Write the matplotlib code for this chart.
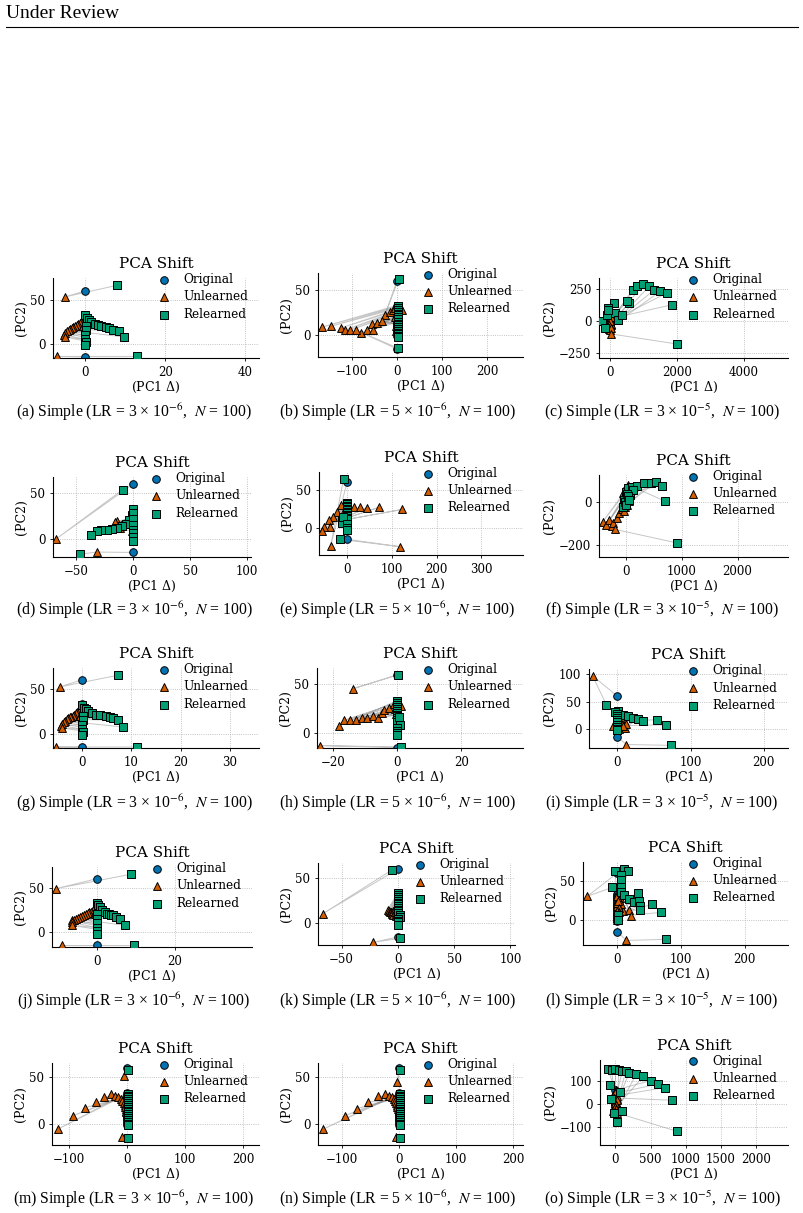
# PCA shift grid: original / unlearned / relearned points per run
import matplotlib.pyplot as plt
from matplotlib.ticker import MultipleLocator

plt.rcParams['font.family'] = 'DejaVu Serif'
plt.rcParams['mathtext.fontset'] = 'dejavuserif'

C_ORIG = '#0173b2'
C_UNL = '#d55e00'
C_REL = '#029e73'

# original points (shared by all runs)
orig_x = [0, 0, 0, 0, 0, 0, 0, 0, 0, 0, 0, 0, 0, 0, 0, 0, 0, 0, 0, 0]
orig_y = [60, 33, 31, 29, 27, 25, 23, 21, 19, 17, 15, 13, 11, 9, 7, 5, 3, 1, -1, -15]

# (a)
a_unl_x = [-5.2, -0.3, -0.5, -0.8, -1.1, -1.4, -1.8, -2.2, -2.6, -3.0, -3.4, -3.8, -4.2, -4.6, -5.0, -5.3, -5.2, -0.2, -0.5, -7.1]
a_unl_y = [53, 29, 27, 26, 25, 24, 22, 21, 20, 19, 18, 17, 15, 14, 12, 10, 7.6, 22, 20, -14.5]
a_rel_x = [7.9, 0, 0.4, 0.8, 1.5, 2.3, 3.2, 4.0, 5.2, 6.0, 6.9, 8.3, 9.7, 0.2, 0.1, 0, 0, 0.1, 0, 12.9]
a_rel_y = [66.3, 32, 29, 27, 25, 22.7, 21.5, 20.5, 19, 17.5, 16, 14, 7.6, 20, 15, 10, 5, 2, -2, -14.5]
# (b)
b_unl_x = [-26, -167, -147, -125, -114, -103, -79, -67, -56, -53, -44, -33, -16, -9, 12, -5, -3, -2, -1, -90]
b_unl_y = [23, 9, 10, 8, 6, 6, 2.6, 6, 12, 6, 14, 16, 25.5, 28.5, 28.5, 30, 20, 10, 5, 5.5]
b_rel_x = [3.7, 2, 2, 2, 2, 2, 2, 2, 2, 2, 2, 2, 2, 2, 2, 2, 2, 2, 2, 2]
b_rel_y = [62, 32, 30, 28, 26, 24, 22, 20, 18, 15, 13, 11, 9, 7, 5, 3, 1, -1, -2, -14]
# (c)
c_unl_x = [0, -20, -30, -10, 10, 20, 0, -40, 30, 10, -20, 0, 20, 40, -10, 0, 10, -30, 20, 30]
c_unl_y = [-40, -30, -20, -10, 0, 10, -50, -60, -30, -45, -5, 20, -20, 30, -70, -35, 5, -25, -55, -98]
c_rel_x = [-250, 120, 580, 500, 680, 820, 980, 1170, 1330, 1500, 1700, 1870, -100, -70, 150, 250, 350, -50, -150, 2000]
c_rel_y = [5, 142, 142, 160, 246, 277, 290, 272, 246, 233, 220, 130, 52, 104, 65, 13, 52, 91, -52, -176]
# (d)
d_unl_x = [-67.6, -1.5, -3, -6, -11, -12, -14, -16, -2, -1, -0.5, -0.5, -1, 0, 0, 0, 0, 0, 0, -32]
d_unl_y = [0, 31, 22, 18, 14.6, 12, 19, 18, 25, 20, 15, 10, 8, 5, 3, 2, 1, 0, -1, -14.6]
d_rel_x = [-9.4, 0, -1.5, -3.5, -6.5, -10.3, -14.7, -19, -23.5, -28, -32, -36.8, 0, 0, 0, 0, 0, 0, 0, -47]
d_rel_y = [53.6, 33, 25.5, 20, 16.4, 13.5, 12, 11, 10, 9, 8.4, 3.6, 28, 22, 15, 10, 6, 2, -2, -17]
# (e)
e_unl_x = [-37, -13, -22, -32, -40, -38, -52, -57, 15, 28, 44, 72, 123, -5, -3, -2, -1, 0, 0, 119]
e_unl_y = [-23.5, 29.6, 21, 14, 10, 1.3, 1.3, -4.3, 27, 27, 26, 27, 24, 25, 20, 15, 10, 5, 0, -24.8]
e_rel_x = [-8, 0, 0, 0, 0, 0, 0, 0, 0, 0, 0, 0, 0, -12, -12, -10, 0, 0, 0, -17]
e_rel_y = [64, 33, 31, 29, 27, 25, 23, 21, 19, 17, 15, 13, 11, 10, 6.5, 14, 5, 0, -3, -15]
# (f)
f_unl_x = [-420, -360, -300, -258, -230, -156, -120, -78, -60, 42, -18, 10, 20, -40, 0, 30, -10, 50, 5, -198]
f_unl_y = [-92, -108, -84, -113, -100, -76, -52, -29, 43, 83, 27, 10, -10, -40, 60, 30, -20, 5, -5, -128]
f_rel_x = [0, -36, 42, 100, 200, 323, 443, 540, 640, 700, -48, 72, 130, 10, 20, -20, 0, 30, 60, 910]
f_rel_y = [51, 11, 67, 75, 79, 90, 94, 97, 79, 6, -21, 35, 59, 20, 40, 0, -10, 30, 10, -192]
# (g)
g_unl_x = [-4.5, -0.3, -0.5, -0.7, -1.0, -1.3, -1.6, -1.9, -2.2, -2.5, -2.8, -3.1, -3.4, -3.7, -4.0, -4.2, -4.0, -0.2, -0.4, -5.2]
g_unl_y = [52, 28, 26, 25, 24, 23, 21, 20, 19, 18, 17, 16, 14, 13, 11, 9, 6.3, 22, 20, -14.8]
g_rel_x = [7.3, 0, 0.3, 0.7, 1.3, 2.0, 2.9, 3.6, 4.9, 5.6, 6.3, 7.3, 8.4, 0.2, 0.1, 0, 0, 0.1, 0, 11.1]
g_rel_y = [65, 32, 29, 27, 25, 22.5, 21, 20.5, 20, 18.5, 17, 15, 7.4, 20, 15, 10, 5, 2, -2, -14.8]
# (h)
h_unl_x = [-13.9, -18, -16.5, -14.6, -12.8, -11, -9.4, -7.6, -6, -4.8, -4, -2.4, 1.25, -1, -0.5, -0.3, 0, 0, 0, -24]
h_unl_y = [45.5, 7.6, 13, 13.8, 13.8, 15.5, 15.5, 18, 15.5, 21, 23.4, 26, 28, 30, 25, 20, 15, 10, 5, -13]
h_rel_x = [0.2, 0, 0, 0, 0, 0, 0, 0, 0, 0, 0, 0, 0, 0.7, 1, 0, 0, 0, 0, 1.25]
h_rel_y = [59.7, 33, 31, 29, 27, 25, 23, 21, 19, 17, 15, 13, 11, 16.5, 8.6, 5, 2, 0, -2, -14.5]
# (i)
i_unl_x = [-34, 0, 2, 5, 7.8, 10, 12, 3, -6, 1, 0, 0, 0, 0, 1, 0, 8, 2, 0, 12.3]
i_unl_y = [97.6, 30, 25, 20, 7.3, 1.2, 9, 15, 5.5, 10, 20, 25, 18, 12, 8, 3, 5, 0, -3, -29]
i_rel_x = [-15, 1, 7.8, 14.6, 21.5, 28, 35, 53.4, 66, -3.6, 0, 0, 0, 0, 0, 0, 0, 0, 0, 72.6]
i_rel_y = [44, 33, 25.6, 22.6, 19.5, 17.7, 15, 16.5, 7.3, 31.7, 28, 24, 20, 16, 12, 7, 3, 0, -3, -30.5]
# (j)
j_unl_x = [-10.3, -0.3, -0.6, -1.0, -1.4, -1.8, -2.3, -2.8, -3.3, -3.8, -4.3, -4.8, -5.3, -5.8, -6.2, -6.4, -6.2, -0.3, -0.5, -8.8]
j_unl_y = [49, 27, 25.5, 24.4, 23, 22, 21, 20, 19, 18, 17, 16, 15, 14, 13, 11, 7.5, 22, 20, -15]
j_rel_x = [8.7, 0, 0.4, 0.9, 1.5, 2.1, 2.6, 3.2, 3.8, 4.3, 5.0, 6.0, 7.3, 0.2, 0.1, 0, 0, 0.1, 0, 9.7]
j_rel_y = [65, 33, 30, 28, 25, 22, 20.7, 20, 19.5, 19, 17, 15, 7.5, 20, 15, 10, 5, 1, -2, -15]
# (k)
k_unl_x = [-67, -9, -8, -7, -6.5, -6, -5.5, -5, -4.5, -4, -3, -2.5, -2, -1.5, -1, -1, 0, 0, 0, -21.7]
k_unl_y = [10.4, 15, 14, 13, 13, 12, 11, 10, 9, 14, 16, 12, 10, 8, 15, 20, 25, 28, 30, -21]
k_rel_x = [-5.3, 0, 0, 0, 0, 0, 0, 0, 0, 0, 0, 0, 0.5, 1.5, 1.5, 0, 0, 0, 0, 1.5]
k_rel_y = [59, 33, 31, 29, 27, 25, 23, 21, 19, 17, 15, 13.7, 11, 9, 7.4, 5, 3, 1, -2, -16.7]
# (l)
l_unl_x = [-47, 0, 3.7, 0, 3.7, 9, 18, 22, 2, 5, 0, 1, 2, 3, 0, 1, 0, 0, 0, 14]
l_unl_y = [30.5, 30.5, 27.5, 17.8, 14.8, 11.4, 12.7, 5, 25, 20, 22, 24, 16, 10, 12, 8, 5, 2, 0, -26]
l_rel_x = [-8, -4, 10, 17, 6, 5, 5, 6, 11, 18, 26, 33, 34.7, 35.8, 35.8, 55, 69, 1, 1, 77]
l_rel_y = [41.5, 62.7, 65, 62.7, 58, 51, 42, 36, 32, 26.7, 23, 34, 24, 18, 12.7, 20, 9.7, 6.4, 0, -24.6]
# (m)
m_unl_x = [-5, -119, -93, -73, -53, -39, -27, -20, -15, -10, -8, -6, -4, -3, -2, -1, -1, 0, 0, -8]
m_unl_y = [51, -6, 8.5, 17, 23, 29, 32, 30, 28, 26, 24, 22, 20, 18, 16, 14, 12, 10, 8, -14]
m_rel_x = [1, 2, 2, 2, 2, 2, 2, 2, 2, 2, 2, 2, 2, 2, 2, 2, 2, 2, 2, 2]
m_rel_y = [57, 32, 30, 28, 26, 24, 22, 20, 18, 16, 14, 12, 10, 8, 6, 4, 2, 0, -2, -15]
# (n)
n_unl_x = [-3, -133, -95, -74, -54, -37, -25, -18, -13, -9, -7, -5, -4, -3, -2, -1, -1, 0, 0, -6]
n_unl_y = [45, -6, 8.5, 16, 23, 30, 32, 30, 28, 26, 24, 22, 20, 18, 16, 14, 12, 10, 8, -14]
n_rel_x = [1, 2, 2, 2, 2, 2, 2, 2, 2, 2, 2, 2, 2, 2, 2, 2, 2, 2, 2, 2]
n_rel_y = [57, 32, 30, 28, 26, 24, 22, 20, 18, 16, 14, 12, 10, 8, 6, 4, 2, 0, -2, -15]
# (o)
o_unl_x = [0, -20, 10, 30, -10, 20, 0, 40, -30, 10, 0, 20, -20, 30, 0, 10, -10, 5, 0, 20]
o_unl_y = [50, 40, 30, 20, 10, 0, -10, -20, -30, 60, 45, 35, 25, 15, 5, -5, -15, -25, -35, -40]
o_rel_x = [-100, -50, 0, 50, 100, 150, 200, 300, 400, 500, 600, 700, 800, -80, -60, -20, 20, 60, 100, 870]
o_rel_y = [150, 148, 150, 145, 140, 140, 135, 130, 120, 100, 85, 70, 15, 80, 20, -40, -80, 50, -30, -120]

# learning rate per column: mantissa, exponent
lr_mant = ['3', '5', '3']
lr_exp = ['-6', '-6', '-5']
letters = 'abcdefghijklmno'

series = [
    (a_unl_x, a_unl_y, a_rel_x, a_rel_y), (b_unl_x, b_unl_y, b_rel_x, b_rel_y), (c_unl_x, c_unl_y, c_rel_x, c_rel_y),
    (d_unl_x, d_unl_y, d_rel_x, d_rel_y), (e_unl_x, e_unl_y, e_rel_x, e_rel_y), (f_unl_x, f_unl_y, f_rel_x, f_rel_y),
    (g_unl_x, g_unl_y, g_rel_x, g_rel_y), (h_unl_x, h_unl_y, h_rel_x, h_rel_y), (i_unl_x, i_unl_y, i_rel_x, i_rel_y),
    (j_unl_x, j_unl_y, j_rel_x, j_rel_y), (k_unl_x, k_unl_y, k_rel_x, k_rel_y), (l_unl_x, l_unl_y, l_rel_x, l_rel_y),
    (m_unl_x, m_unl_y, m_rel_x, m_rel_y), (n_unl_x, n_unl_y, n_rel_x, n_rel_y), (o_unl_x, o_unl_y, o_rel_x, o_rel_y),
]

# axis limits and tick steps per panel
xlims = [(-8.1, 43.4), (-175, 280), (-330, 5330),
         (-70.6, 103.5), (-63, 393), (-485, 2904),
         (-5.9, 35.9), (-25, 39.3), (-38.8, 233),
         (-11.4, 39.8), (-71, 104), (-54, 268),
         (-129, 227), (-142, 217), (-217, 2450)]
ylims = [(-16.3, 74.6), (-24, 69), (-285, 337),
         (-20, 67.5), (-35.6, 73), (-259, 130),
         (-15.9, 73), (-15.5, 67), (-35.4, 110),
         (-16.9, 73.3), (-24, 66.7), (-31.8, 74),
         (-23, 65), (-23, 65), (-180, 190)]
xsteps = [20, 100, 2000, 50, 100, 1000, 10, 20, 100, 20, 50, 100, 100, 100, 500]
ysteps = [50, 50, 250, 50, 50, 200, 50, 50, 50, 50, 50, 50, 50, 50, 100]

# axes boxes in pixels: left, top, right, bottom
boxes = [(53, 278, 259, 358), (318, 273, 523, 357), (599, 278, 788, 358),
         (53, 477, 251, 557), (319, 472, 523, 555), (599, 475, 788, 557),
         (53, 668, 259, 748), (317, 668, 523, 748), (589, 669, 788, 748),
         (52, 867, 252, 947), (318, 863, 515, 945), (583, 862, 788, 945),
         (52, 1063, 259, 1145), (318, 1063, 523, 1145), (600, 1060, 788, 1145)]
caption_x = [134, 397, 662]
caption_y = [412, 610, 803, 1001, 1199]

W, H = 804, 1213
fig = plt.figure(figsize=(W / 100, H / 100), dpi=100)

fig.text(6 / W, 1 - 14 / H, 'Under Review', family='Liberation Serif', fontsize=14, va='center', ha='left')
fig.add_artist(plt.Line2D([6 / W, 798 / W], [1 - 27 / H, 1 - 27 / H], color='black', lw=0.8))

for idx in range(15):
    ux, uy, rx, ry = series[idx]
    l, t, r, b = boxes[idx]
    ax = fig.add_axes([l / W, 1 - b / H, (r - l) / W, (b - t) / H])
    for i in range(len(orig_x)):
        ax.plot([orig_x[i], ux[i], rx[i]], [orig_y[i], uy[i], ry[i]],
                color='gray', alpha=0.45, lw=0.7, zorder=1)
    ax.scatter(orig_x, orig_y, marker='o', s=30, color=C_ORIG, edgecolor='black', linewidth=0.7, zorder=2, label='Original')
    ax.scatter(ux, uy, marker='^', s=32, color=C_UNL, edgecolor='black', linewidth=0.7, zorder=3, label='Unlearned')
    ax.scatter(rx, ry, marker='s', s=30, color=C_REL, edgecolor='black', linewidth=0.7, zorder=4, label='Relearned')
    ax.set_xlim(xlims[idx])
    ax.set_ylim(ylims[idx])
    ax.xaxis.set_major_locator(MultipleLocator(xsteps[idx]))
    ax.yaxis.set_major_locator(MultipleLocator(ysteps[idx]))
    ax.grid(True, linestyle=':', color='#b0b0b0', lw=0.6)
    ax.set_axisbelow(True)
    ax.spines['top'].set_visible(False)
    ax.spines['right'].set_visible(False)
    ax.tick_params(labelsize=8.5, length=2, width=0.6)
    ax.set_title('PCA Shift', fontsize=11, pad=7)
    ax.set_xlabel(r'(PC1 $\Delta$)', fontsize=9, labelpad=1)
    ax.set_ylabel('(PC2)', fontsize=9, labelpad=2)
    ax.legend(loc='upper right', bbox_to_anchor=(0.97, 1.12), frameon=False, fontsize=8.7,
              handletextpad=0.6, labelspacing=0.35, borderaxespad=0)

    col, row = idx % 3, idx // 3
    cap = '(%s) Simple (LR = %s \u00d7 10$^{%s}$,  $N$ = 100)' % (letters[idx], lr_mant[col],
                                                                lr_exp[col].replace('-', '\u2212'))
    fig.text(caption_x[col] / W, 1 - caption_y[row] / H, cap, family='Liberation Serif',
             math_fontfamily='stix', fontsize=11.3, ha='center', va='center')

fig.savefig('out.png', dpi=100)
